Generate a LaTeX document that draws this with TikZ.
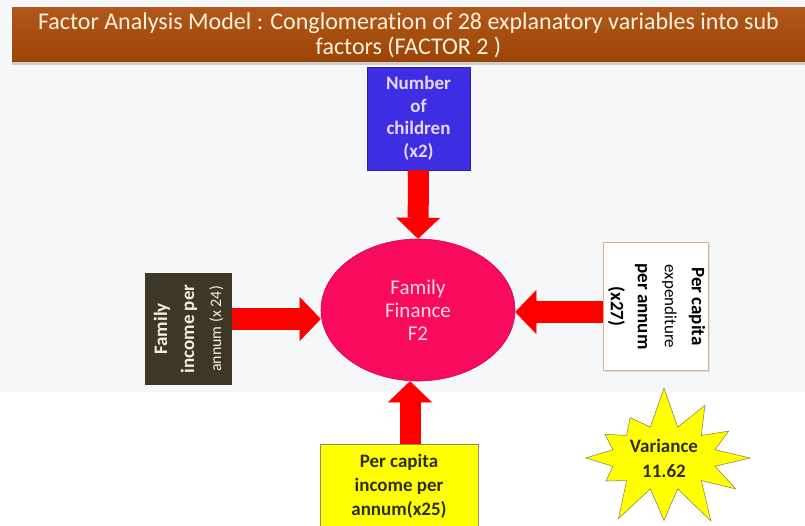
\documentclass[tikz,border=0pt]{standalone}
\usepackage{fontspec}
\setmainfont{Carlito}[Ligatures=NoCommon]
\usepackage{tikz}
\usetikzlibrary{positioning}
\usetikzlibrary{arrows.meta}
\usetikzlibrary{shapes.geometric}
\usetikzlibrary{shapes.symbols}
\usetikzlibrary{shadows}

\definecolor{bgtop}{HTML}{F6F7F9}
\definecolor{titletop}{HTML}{B0581A}
\definecolor{titlebot}{HTML}{9A4406}
\definecolor{titletext}{HTML}{FFF1DC}
\definecolor{kidsblue}{HTML}{3E2DE2}
\definecolor{kidstext}{HTML}{E4D8FF}
\definecolor{financepink}{HTML}{F80A5C}
\definecolor{financetext}{HTML}{FFD8E8}
\definecolor{incomeolive}{HTML}{3C3726}
\definecolor{incometext}{HTML}{F2F0E4}
\definecolor{expborder}{HTML}{DDAF86}
\definecolor{boxyellow}{HTML}{FFFF00}
\definecolor{darktext}{HTML}{2E2E2E}

\begin{document}
\begin{tikzpicture}[x=1pt, y=-1pt,
    factorbox/.style={rectangle, inner sep=0pt, line width=0.4pt},
    bigarrow/.style={red, line width=21pt,
      -{Triangle[length=21pt, width=44pt, line width=0.4pt]}}]
    \useasboundingbox (0,0) rectangle (805,526);
    \fill[bgtop] (0,0) rectangle (805,392);

    \node[factorbox, minimum width=793pt, minimum height=54pt,
      top color=titletop, bottom color=titlebot, text=titletext,
      drop shadow={opacity=0.35, shadow xshift=0pt, shadow yshift=-3pt},
      align=center, font=\fontsize{24}{25}\selectfont]
      (title) at (408.5,35)
      {Factor Analysis Model : Conglomeration of 28 explanatory variables into sub\\factors (FACTOR 2 )};

    \node[factorbox, draw=kidsblue!70!black, fill=kidsblue, text=kidstext,
      minimum width=103pt, minimum height=103pt, align=center,
      font=\fontsize{19}{22.5}\selectfont\bfseries]
      (kids) at (418.5,118.5) {Number\\of\\children\\(x2)};

    \node[ellipse, draw=financepink!60!violet, line width=0.6pt, fill=financepink,
      text=financetext, minimum width=194pt, minimum height=142pt, inner sep=0pt,
      align=center, font=\fontsize{21}{23}\selectfont]
      (finance) at (418,310) {Family\\Finance\\F2};

    \node[factorbox, fill=incomeolive, minimum width=87pt, minimum height=112pt]
      (famincome) at (188.5,329) {};
    \node[rotate=90, text=incometext, align=center,
      font=\fontsize{19}{27}\selectfont]
      at (famincome.center)
      {\textbf{Family}\\\textbf{income per}\\{\fontsize{16}{27}\selectfont annum (x 24)}};

    \node[factorbox, draw=expborder, line width=1pt, fill=white,
      drop shadow={opacity=0.2, shadow xshift=2pt, shadow yshift=-2pt},
      minimum width=105pt, minimum height=127pt]
      (percapexp) at (655.5,306.5) {};
    \node[rotate=-90, text=black, align=center,
      font=\fontsize{19}{27}\selectfont]
      at ([xshift=1pt]percapexp.center)
      {\textbf{Per capita}\\{\fontsize{17}{27}\selectfont expenditure}\\\textbf{per annum}\\\textbf{(x27)}};

    \node[factorbox, draw=gray!70!olive, fill=boxyellow,
      minimum width=158pt, minimum height=92pt]
      (percapinc) at (399,490) {};
    \node[text=darktext, align=center, font=\fontsize{19}{24}\selectfont\bfseries]
      at (399,486) {Per capita\\income per\\annum(x25)};

    \node[starburst, starburst points=12, starburst point height=42pt,
      random starburst=7, draw=gray!60!olive, line width=0.6pt, fill=boxyellow,
      minimum width=150pt, minimum height=112pt, text=darktext, align=center,
      font=\fontsize{19}{25}\selectfont\bfseries]
      (variance) at (664,458) {Variance\\11.62};

    \draw[bigarrow] (kids.south) -- (finance.north);
    \draw[bigarrow] ([yshift=10pt]famincome.east) -- ([yshift=10pt]famincome.east -| finance.west);
    \draw[bigarrow] ([yshift=-5.5pt]percapexp.west) -- ([yshift=-5.5pt]percapexp.west -| finance.east);
    \draw[bigarrow] ([xshift=11pt]percapinc.north) -- ([xshift=11pt]percapinc.north |- finance.south);
\end{tikzpicture}
\end{document}
